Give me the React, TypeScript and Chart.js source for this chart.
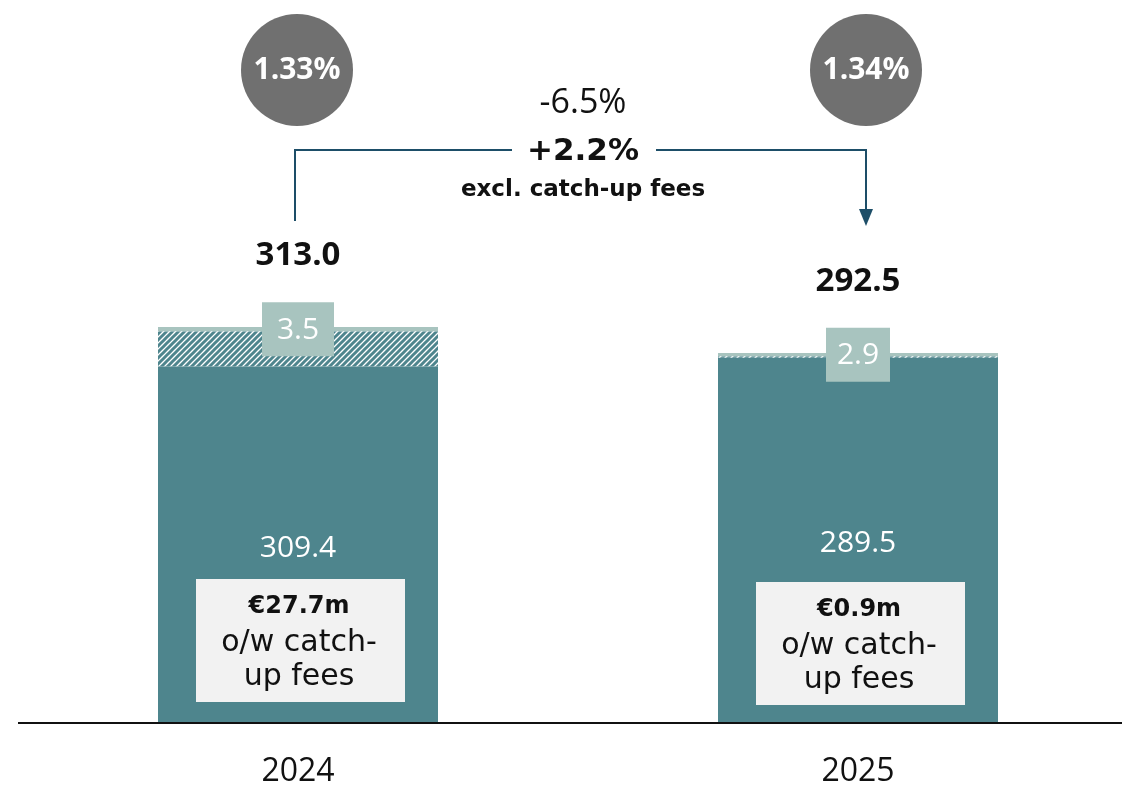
import React, { useEffect, useRef } from "react";
import { Chart, registerables } from "chart.js";

Chart.register(...registerables);

const categories = ["2024", "2025"];
const baseExclFees = [281.7, 288.6];
const catchUpFees = [27.7, 0.9];
const otherValues = [3.5, 2.9];
const totalLabels = ["313.0", "292.5"];
const coreLabels = ["309.4", "289.5"];
const feeBoxLabels = ["€27.7m", "€0.9m"];
const marginLabels = ["1.33%", "1.34%"];
const changeLabel = "-6.5%";
const changeExclLabel = "+2.2%";
const changeExclNote = "excl. catch-up fees";

const TEAL = "#4E858D";
const LIGHT = "#A8C4BF";
const NAVY = "#1D4E68";

function makeHatch(): CanvasPattern | string {
  const c = document.createElement("canvas");
  c.width = 6;
  c.height = 6;
  const g = c.getContext("2d");
  if (!g) return TEAL;
  g.fillStyle = "#ffffff";
  g.fillRect(0, 0, 6, 6);
  g.strokeStyle = TEAL;
  g.lineWidth = 3;
  g.beginPath();
  g.moveTo(-1, 7);
  g.lineTo(7, -1);
  g.moveTo(-4, 4);
  g.lineTo(4, -4);
  g.moveTo(2, 10);
  g.lineTo(10, 2);
  g.stroke();
  const p = g.createPattern(c, "repeat");
  return p || TEAL;
}

const annotations = {
  id: "annotations",
  afterDraw(chart: any) {
    const ctx = chart.ctx as CanvasRenderingContext2D;
    const metaBase = chart.getDatasetMeta(0);
    const metaTop = chart.getDatasetMeta(2);
    const area = chart.chartArea;
    const axisY = area.bottom;
    ctx.save();

    // axis line
    ctx.strokeStyle = "#111";
    ctx.lineWidth = 2;
    ctx.beginPath();
    ctx.moveTo(18, axisY + 1);
    ctx.lineTo(chart.width, axisY + 1);
    ctx.stroke();

    ctx.textAlign = "center";
    ctx.textBaseline = "middle";

    const centers: number[] = [];
    categories.forEach((cat, i) => {
      const bar = metaBase.data[i];
      const top = metaTop.data[i];
      const cx = bar.x;
      centers.push(cx);

      // category label
      ctx.fillStyle = "#111";
      ctx.font = "32px 'Open Sans'";
      ctx.fillText(cat, cx, axisY + 50);

      // total label
      ctx.font = "bold 33px 'Open Sans'";
      ctx.fillText(totalLabels[i], cx, top.y - 71);

      // top segment label box
      const segMid = (top.y + top.base) / 2;
      const bw = i === 0 ? 72 : 64;
      ctx.fillStyle = LIGHT;
      ctx.fillRect(cx - bw / 2, segMid - 27, bw, 54);
      ctx.fillStyle = "#fff";
      ctx.font = "30px 'Open Sans'";
      ctx.fillText(otherValues[i].toFixed(1), cx, segMid + 1);

      // core label
      ctx.font = "30px 'Open Sans'";
      ctx.fillText(coreLabels[i], cx, axisY - (i === 0 ? 174 : 179));

      // fees box
      const boxTop = axisY - (i === 0 ? 143 : 140);
      ctx.fillStyle = "#F2F2F2";
      ctx.fillRect(cx - 102, boxTop, 209, 123);
      ctx.fillStyle = "#111";
      ctx.font = "bold 24px 'DejaVu Sans'";
      ctx.fillText(feeBoxLabels[i], cx + 1, boxTop + 28);
      ctx.font = "30px 'DejaVu Sans'";
      ctx.fillText("o/w catch-", cx + 1, boxTop + 64);
      ctx.fillText("up fees", cx + 1, boxTop + 98);

      // margin circle
      const ccx = cx + (i === 0 ? -1 : 8);
      ctx.fillStyle = "#707070";
      ctx.beginPath();
      ctx.arc(ccx, 70, 56, 0, Math.PI * 2);
      ctx.fill();
      ctx.fillStyle = "#fff";
      ctx.font = "bold 30px 'Open Sans'";
      ctx.fillText(marginLabels[i], ccx, 70);
    });

    // arrow connector
    const x1 = centers[0] - 3;
    const x2 = centers[1] + 8;
    const yH = 150;
    ctx.strokeStyle = NAVY;
    ctx.lineWidth = 2;
    ctx.beginPath();
    ctx.moveTo(x1, 221);
    ctx.lineTo(x1, yH);
    ctx.lineTo(512, yH);
    ctx.moveTo(656, yH);
    ctx.lineTo(x2, yH);
    ctx.lineTo(x2, 212);
    ctx.stroke();
    ctx.fillStyle = NAVY;
    ctx.beginPath();
    ctx.moveTo(x2 - 7, 209);
    ctx.lineTo(x2 + 7, 209);
    ctx.lineTo(x2, 226);
    ctx.closePath();
    ctx.fill();

    // change texts
    const mx = 583;
    ctx.fillStyle = "#111";
    ctx.font = "34px 'Open Sans'";
    ctx.fillText(changeLabel, mx, 103);
    ctx.font = "bold 31px 'DejaVu Sans'";
    ctx.fillText(changeExclLabel, mx, 152);
    ctx.font = "bold 23px 'DejaVu Sans'";
    ctx.fillText(changeExclNote, mx, 190);

    ctx.restore();
  },
};

export default function App() {
  const ref = useRef<HTMLCanvasElement>(null);
  useEffect(() => {
    if (!ref.current) return;
    const hatch = makeHatch();
    const chart = new Chart(ref.current, {
      type: "bar",
      data: {
        labels: categories,
        datasets: [
          { label: "Base", data: baseExclFees, backgroundColor: TEAL, borderWidth: 0 },
          { label: "Catch-up fees", data: catchUpFees, backgroundColor: hatch as any, borderWidth: 0 },
          { label: "Other", data: otherValues, backgroundColor: LIGHT, borderWidth: 0 },
        ],
      },
      options: {
        responsive: false,
        animation: false,
        devicePixelRatio: 1,
        layout: { padding: { left: 18, right: 2, top: 0, bottom: 66 } },
        datasets: { bar: { barPercentage: 1, categoryPercentage: 0.5 } },
        plugins: { legend: { display: false }, tooltip: { enabled: false } },
        scales: {
          x: { stacked: true, display: false },
          y: { stacked: true, display: false, min: 0, max: 572 },
        },
      },
      plugins: [annotations],
    });
    return () => chart.destroy();
  }, []);
  return (
    <div
      style={{
        position: "fixed",
        left: 0,
        top: 0,
        width: 1122,
        height: 788,
        overflow: "hidden",
        background: "#fff",
      }}
    >
      <canvas ref={ref} width={1140} height={788} style={{ width: 1140, height: 788, display: "block" }} />
    </div>
  );
}
